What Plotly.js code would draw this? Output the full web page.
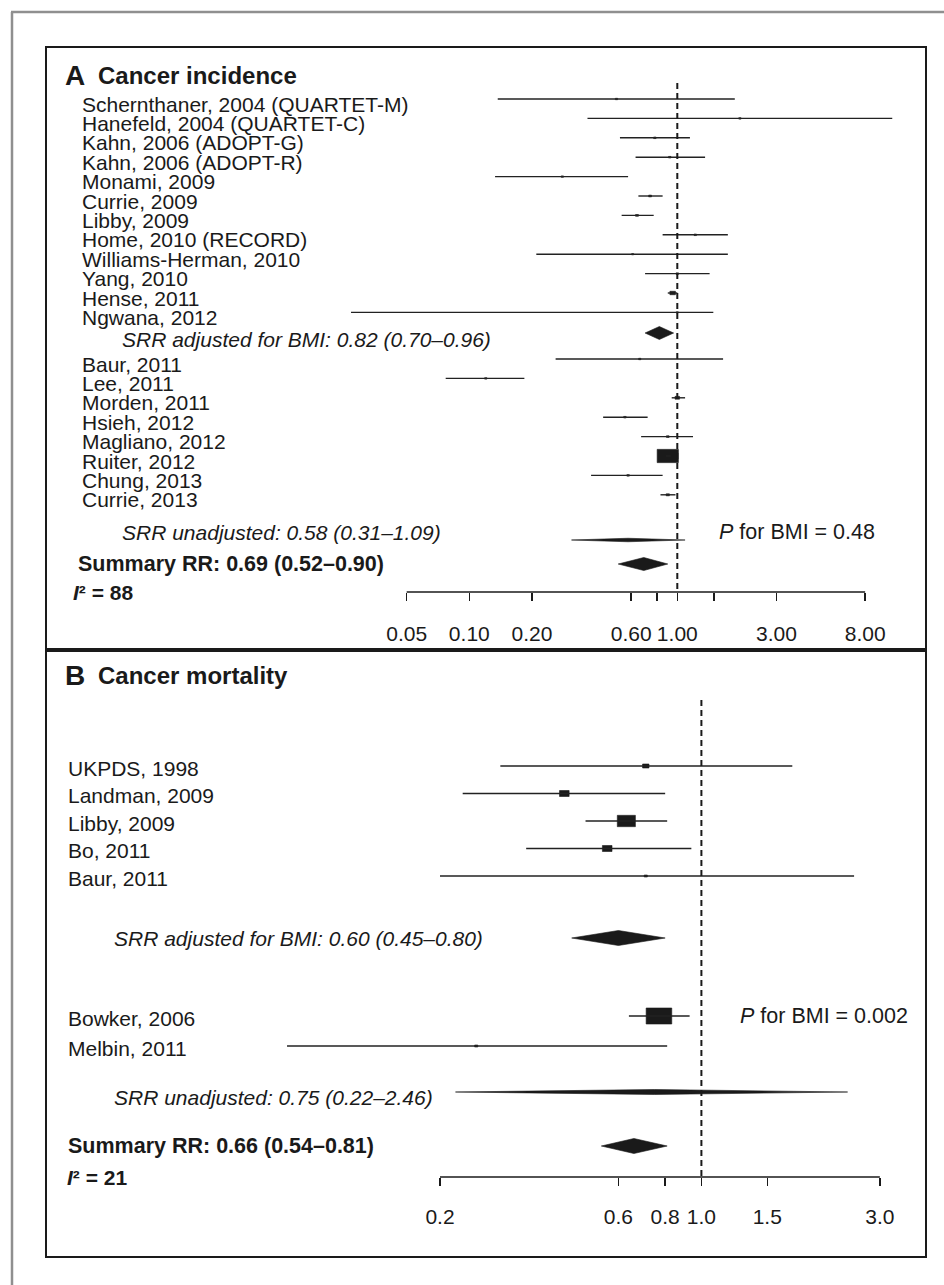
<!DOCTYPE html>
<html><head><meta charset="utf-8">
<script src="https://cdn.plot.ly/plotly-3.0.1.min.js"></script>
<style>html,body{margin:0;padding:0;background:#fff}#chart{width:944px;height:1285px}</style>
</head><body><div id="chart"></div>
<script>
// ---------------- Panel A: Cancer incidence ----------------
const studiesA1 = ["Schernthaner, 2004 (QUARTET-M)", "Hanefeld, 2004 (QUARTET-C)", "Kahn, 2006 (ADOPT-G)", "Kahn, 2006 (ADOPT-R)", "Monami, 2009", "Currie, 2009", "Libby, 2009", "Home, 2010 (RECORD)", "Williams-Herman, 2010", "Yang, 2010", "Hense, 2011", "Ngwana, 2012"];
const rrA1 = [0.51, 2.0, 0.78, 0.92, 0.28, 0.74, 0.64, 1.22, 0.61, 1.0, 0.95, 1.0];
const loA1 = [0.137, 0.37, 0.53, 0.63, 0.133, 0.65, 0.54, 0.85, 0.21, 0.70, 0.90, 0.027];
const hiA1 = [1.89, 10.8, 1.15, 1.36, 0.58, 0.85, 0.77, 1.75, 1.75, 1.43, 1.00, 1.49];
const weightA1 = [0.5, 0.5, 0.6, 0.6, 0.5, 0.8, 0.8, 0.6, 0.4, 0.6, 3, 0.4];

const studiesA2 = ["Baur, 2011", "Lee, 2011", "Morden, 2011", "Hsieh, 2012", "Magliano, 2012", "Ruiter, 2012", "Chung, 2013", "Currie, 2013"];
const rrA2 = [0.66, 0.12, 1.0, 0.56, 0.90, 0.90, 0.58, 0.90];
const loA2 = [0.26, 0.077, 0.94, 0.44, 0.67, 0.88, 0.385, 0.83];
const hiA2 = [1.66, 0.184, 1.09, 0.72, 1.19, 0.93, 0.85, 0.98];
const weightA2 = [0.5, 0.5, 2, 0.6, 0.7, 44, 0.6, 1];

const srrAdjA = [0.82, 0.70, 0.96];
const srrUnadjA = [0.58, 0.31, 1.09];
const summaryA = [0.69, 0.52, 0.90];
const i2A = 88;
const pBmiA = "0.48";
const tickValsA = [0.05, 0.1, 0.2, 0.6, 0.8, 1, 1.5, 3, 8];
const tickTextA = ["0.05", "0.10", "0.20", "0.60", "", "1.00", "", "3.00", "8.00"];

// ---------------- Panel B: Cancer mortality ----------------
const studiesB1 = ["UKPDS, 1998", "Landman, 2009", "Libby, 2009", "Bo, 2011", "Baur, 2011"];
const rrB1 = [0.71, 0.43, 0.63, 0.56, 0.71];
const loB1 = [0.29, 0.23, 0.49, 0.34, 0.20];
const hiB1 = [1.75, 0.80, 0.81, 0.94, 2.56];
const weightB1 = [4, 9, 32, 9, 1];

const studiesB2 = ["Bowker, 2006", "Melbin, 2011"];
const rrB2 = [0.77, 0.25];
const loB2 = [0.64, 0.078];
const hiB2 = [0.93, 0.81];
const weightB2 = [64, 1];

const srrAdjB = [0.60, 0.45, 0.80];
const srrUnadjB = [0.75, 0.22, 2.46];
const summaryB = [0.66, 0.54, 0.81];
const i2B = 21;
const pBmiB = "0.002";
const tickValsB = [0.2, 0.6, 0.8, 1, 1.5, 3];
const tickTextB = ["0.2", "0.6", "0.8", "1.0", "1.5", "3.0"];

// ---------------- layout geometry (pixels) ----------------
const W = 944, H = 1285;
const FONT = "Liberation Sans, Arial, Helvetica, sans-serif";
const INK = "#1a1a1a";
const FS = 21;

const G = {
  A: {x1: 677.3, ppd: 208, base: 99, step: 19.4, xa: "x", ya: "y",
      adj: 333, adjText: 339, g2: 359, unadj: 540, unadjText: 532, total: 564, axis: 592,
      dashTop: 83, labelX: 81, subX: 121, sumX: 77, i2X: 72, pX: 718, pY: 532, title: 75,
      textOff: 5, diamondH: 13, unadjH: 3.5, standoff: 15},
  B: {x1: 701.4, ppd: 374, base: 766, step: 27.5, xa: "x2", ya: "y2",
      adj: 938, adjText: 938, g2: 1016, g2step: 30, unadj: 1092, unadjText: 1097, total: 1146, axis: 1177,
      dashTop: 700, labelX: 67, subX: 113, sumX: 67, i2X: 66, pX: 739, pY: 1016, title: 675,
      textOff: 2, diamondH: 15, unadjH: 5, standoff: 13}
};
function row(g, px) { return (px - g.base) / g.step; }

const traces = [];
const annotations = [];

function txt(g, s, xpx, ypx, opts) {
  annotations.push(Object.assign({
    text: s, x: xpx / W, xref: "paper", y: row(g, ypx), yref: g.ya,
    xanchor: "left", yanchor: "middle", showarrow: false, borderpad: 0,
    font: {family: FONT, size: FS, color: INK}
  }, opts || {}));
}

function poly(g, xs, ys) {
  traces.push({type: "scatter", mode: "lines", x: xs, y: ys, xaxis: g.xa, yaxis: g.ya,
    fill: "toself", fillcolor: INK, line: {color: INK, width: 0.6}, hoverinfo: "skip"});
}

function studies(g, names, rr, lo, hi, wt, rowsPx) {
  const lx = [], ly = [];
  names.forEach((n, i) => {
    const r = row(g, rowsPx[i]);
    lx.push(lo[i], hi[i], null); ly.push(r, r, null);
    const s = 2 * Math.sqrt(wt[i]);          // box height in px
    const f = Math.pow(10, (0.8 * s) / g.ppd); // half width = 0.8*s px
    const hh = (s / 2) / g.step;
    poly(g, [rr[i] / f, rr[i] * f, rr[i] * f, rr[i] / f, rr[i] / f],
            [r - hh, r - hh, r + hh, r + hh, r - hh]);
    txt(g, n, g.labelX, rowsPx[i] + g.textOff);
  });
  traces.push({type: "scatter", mode: "lines", x: lx, y: ly, xaxis: g.xa, yaxis: g.ya,
    line: {color: "#222", width: 1.4}, hoverinfo: "skip", connectgaps: false});
}

function diamond(g, v, ypx, hpx) {
  const r = row(g, ypx), hh = (hpx / 2) / g.step;
  poly(g, [v[1], v[0], v[2], v[0], v[1]], [r, r - hh, r, r + hh, r]);
}

function fmt(v) { return v[0].toFixed(2) + " (" + v[1].toFixed(2) + "\u2013" + v[2].toFixed(2) + ")"; }

function panel(g, d) {
  const rows1 = d.n1.map((_, i) => g.base + i * g.step);
  const st2 = g.g2step || g.step;
  const rows2 = d.n2.map((_, i) => g.g2 + i * st2);
  studies(g, d.n1, d.rr1, d.lo1, d.hi1, d.w1, rows1);
  studies(g, d.n2, d.rr2, d.lo2, d.hi2, d.w2, rows2);
  diamond(g, d.adj, g.adj, g.diamondH);
  diamond(g, d.unadj, g.unadj, g.unadjH);
  diamond(g, d.total, g.total, g.diamondH);
  txt(g, "<i>SRR adjusted for BMI: " + fmt(d.adj) + "</i>", g.subX, g.adjText);
  txt(g, "<i>SRR unadjusted: " + fmt(d.unadj) + "</i>", g.subX, g.unadjText);
  txt(g, "<b>Summary RR: " + fmt(d.total) + "</b>", g.sumX, g.total, {font: {family: FONT, size: 21.5, color: INK}});
  txt(g, "<b><i>I</i>\u00b2 = " + d.i2 + "</b>", g.i2X, g.axis);
  txt(g, "<i>P</i> for BMI = " + d.p, g.pX, g.pY, {font: {family: FONT, size: 21.5, color: INK}});
  // reference line at RR = 1
  traces.push({type: "scatter", mode: "lines", x: [1, 1], y: [row(g, g.dashTop), row(g, g.axis)],
    xaxis: g.xa, yaxis: g.ya, line: {color: INK, width: 2, dash: "6px,4px"}, hoverinfo: "skip"});
  // axis baseline from first to last tick
  const ar = row(g, g.axis);
  traces.push({type: "scatter", mode: "lines", x: [d.ticks[0], d.ticks[d.ticks.length - 1]], y: [ar, ar],
    xaxis: g.xa, yaxis: g.ya, line: {color: INK, width: 1.5}, hoverinfo: "skip"});
}

panel(G.A, {n1: studiesA1, rr1: rrA1, lo1: loA1, hi1: hiA1, w1: weightA1,
  n2: studiesA2, rr2: rrA2, lo2: loA2, hi2: hiA2, w2: weightA2,
  adj: srrAdjA, unadj: srrUnadjA, total: summaryA, i2: i2A, p: pBmiA, ticks: tickValsA});
panel(G.B, {n1: studiesB1, rr1: rrB1, lo1: loB1, hi1: hiB1, w1: weightB1,
  n2: studiesB2, rr2: rrB2, lo2: loB2, hi2: hiB2, w2: weightB2,
  adj: srrAdjB, unadj: srrUnadjB, total: summaryB, i2: i2B, p: pBmiB, ticks: tickValsB});

// panel titles
function title(letter, label, ypx) {
  annotations.push({text: "<b>" + letter + "</b>", x: 64 / W, xref: "paper", y: 1 - ypx / H, yref: "paper",
    xanchor: "left", yanchor: "middle", showarrow: false, borderpad: 0, font: {family: FONT, size: 28, color: INK}});
  annotations.push({text: "<b>" + label + "</b>", x: 97 / W, xref: "paper", y: 1 - ypx / H, yref: "paper",
    xanchor: "left", yanchor: "middle", showarrow: false, borderpad: 0, font: {family: FONT, size: 24, color: INK}});
}
title("A", "Cancer incidence", G.A.title);
title("B", "Cancer mortality", G.B.title);

function xaxis(g, vals, text, extra) {
  return Object.assign({
    type: "log", range: [-g.x1 / g.ppd, (W - g.x1) / g.ppd], domain: [0, 1],
    anchor: "free", position: 1 - g.axis / H, automargin: false,
    tickvals: vals, ticktext: text, ticks: "outside", ticklen: 8, tickwidth: 1.5, tickcolor: INK,
    ticklabelstandoff: g.standoff,
    tickfont: {family: FONT, size: FS, color: INK},
    showline: false, showgrid: false, zeroline: false, fixedrange: true
  }, extra || {});
}
function yaxis(g, extra) {
  return Object.assign({
    range: [(H - g.base) / g.step, -g.base / g.step], domain: [0, 1], visible: false,
    showgrid: false, zeroline: false, fixedrange: true
  }, extra || {});
}

const shapes = [
  // outer grey frame
  {type: "line", xref: "paper", yref: "paper", x0: 11 / W, x1: 1, y0: 1 - 12 / H, y1: 1 - 12 / H, line: {color: "#8f8f8f", width: 2.5}},
  {type: "line", xref: "paper", yref: "paper", x0: 12 / W, x1: 12 / W, y0: 1 - 12 / H, y1: 0, line: {color: "#8f8f8f", width: 2.5}},
  // panel frame
  {type: "rect", xref: "paper", yref: "paper", x0: 46 / W, x1: 926 / W, y0: 1 - 47 / H, y1: 1 - 1257 / H, line: {color: INK, width: 2}},
  {type: "line", xref: "paper", yref: "paper", x0: 46 / W, x1: 926 / W, y0: 1 - 650 / H, y1: 1 - 650 / H, line: {color: INK, width: 4}}
];

const layout = {
  width: W, height: H, margin: {l: 0, r: 0, t: 0, b: 0, pad: 0},
  paper_bgcolor: "#fff", plot_bgcolor: "rgba(0,0,0,0)", showlegend: false,
  xaxis: xaxis(G.A, tickValsA, tickTextA),
  yaxis: yaxis(G.A, {anchor: "x"}),
  xaxis2: xaxis(G.B, tickValsB, tickTextB, {overlaying: "x"}),
  yaxis2: yaxis(G.B, {anchor: "x2", overlaying: "y"}),
  annotations: annotations, shapes: shapes
};

Plotly.newPlot("chart", traces, layout, {staticPlot: true, displayModeBar: false});
</script>
</body></html>
